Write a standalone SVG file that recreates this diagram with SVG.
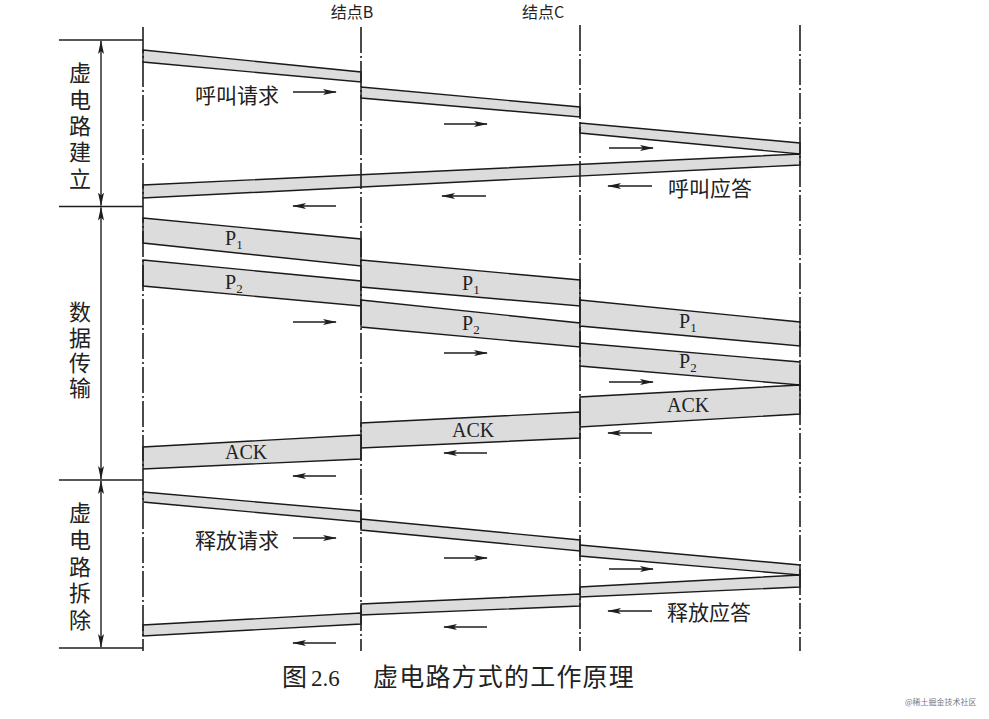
<svg xmlns="http://www.w3.org/2000/svg" width="989" height="719" viewBox="0 0 989 719">
<style>
.bg{fill:#ffffff}
.node{fill:none;stroke:#1e1e1e;stroke-width:1.6;stroke-dasharray:26 3 2 3}
.brk{fill:none;stroke:#1e1e1e;stroke-width:1.4}
.band{fill:#dcdcdc;stroke:#1a1a1a;stroke-width:1.4;stroke-linejoin:miter}
.arr{fill:none;stroke:#1e1e1e;stroke-width:1.5}
.cjk{font-family:"Noto Sans CJK SC","Noto Sans CJK JP",sans-serif;fill:#222}
.ser{font-family:"Liberation Serif","Noto Sans CJK SC",serif;fill:#222}
.vert{writing-mode:vertical-rl;font-size:22px}
</style>
<defs>
<marker id="ah" markerUnits="userSpaceOnUse" markerWidth="14" markerHeight="8" refX="13" refY="4" orient="auto-start-reverse" viewBox="0 0 14 8">
<path d="M0,1 L14,4 L0,7 L3,4 z" fill="#1e1e1e"/>
</marker>
</defs>
<rect class="bg" x="0" y="0" width="989" height="719"/>

<g id="node-labels">
<text class="cjk" x="352" y="18" font-size="16" text-anchor="middle">结点B</text>
<text class="cjk" x="543" y="18" font-size="16" text-anchor="middle">结点C</text>
</g>

<g id="phase-brackets">
<line class="brk" x1="59" y1="40" x2="143" y2="40"/>
<line class="brk" x1="59" y1="206.5" x2="143" y2="206.5"/>
<line class="brk" x1="59" y1="480" x2="143" y2="480"/>
<line class="brk" x1="59" y1="648" x2="143" y2="648"/>
<line class="brk" x1="101" y1="41" x2="101" y2="205.5" marker-start="url(#ah)" marker-end="url(#ah)"/>
<line class="brk" x1="101" y1="207.5" x2="101" y2="479" marker-start="url(#ah)" marker-end="url(#ah)"/>
<line class="brk" x1="101" y1="481" x2="101" y2="647" marker-start="url(#ah)" marker-end="url(#ah)"/>
</g>

<g id="phase-setup-label">
<text class="cjk vert" x="80" y="62" letter-spacing="4.3">虚电路建立</text>
</g>
<g id="phase-data-label">
<text class="cjk vert" x="80" y="301" letter-spacing="3.3">数据传输</text>
</g>
<g id="phase-release-label">
<text class="cjk vert" x="80" y="502" letter-spacing="4.7">虚电路拆除</text>
</g>

<g id="setup-bands">
<polygon class="band" points="143,50 361,72 361,82 143,62"/>
<polygon class="band" points="361,87 580,107 580,117 361,98"/>
<polygon class="band" points="580,123 800,143 800,154 580,133"/>
<polygon class="band" points="800,154 800,165 143,198 143,185"/>
</g>

<g id="data-bands">
<polygon class="band" points="143,218 361,239 361,266 143,243"/>
<polygon class="band" points="143,260 361,281 361,306 143,286"/>
<polygon class="band" points="361,260 580,280 580,306 361,287"/>
<polygon class="band" points="361,300 580,323 580,347 361,327"/>
<polygon class="band" points="580,300 800,322 800,346 580,326"/>
<polygon class="band" points="580,343 800,362 800,385 580,366"/>
<polygon class="band" points="800,385 800,414 580,427 580,397"/>
<polygon class="band" points="580,412 580,438 361,448 361,423"/>
<polygon class="band" points="361,435 361,459 143,469 143,447"/>
</g>

<g id="release-bands">
<polygon class="band" points="143,492 361,511 361,522 143,502"/>
<polygon class="band" points="361,519 580,540 580,551 361,530"/>
<polygon class="band" points="580,545 800,565 800,575 580,556"/>
<polygon class="band" points="800,575 800,587 580,597 580,587"/>
<polygon class="band" points="580,594 580,606 361,615 361,604"/>
<polygon class="band" points="361,613 361,624 143,636 143,625"/>
</g>

<g id="nodes">
<line id="node-A" class="node" x1="143" y1="27" x2="143" y2="651"/>
<line id="node-B" class="node" x1="361" y1="27" x2="361" y2="651"/>
<line id="node-C" class="node" x1="580" y1="25" x2="580" y2="651"/>
<line id="node-D" class="node" x1="800" y1="25" x2="800" y2="651"/>
</g>

<g id="connectors">
<line class="arr" x1="293" y1="92" x2="336" y2="92" marker-end="url(#ah)"/>
<line class="arr" x1="444" y1="124" x2="487" y2="124" marker-end="url(#ah)"/>
<line class="arr" x1="609" y1="148" x2="653" y2="148" marker-end="url(#ah)"/>
<line class="arr" x1="336" y1="206" x2="293" y2="206" marker-end="url(#ah)"/>
<line class="arr" x1="486" y1="196" x2="442" y2="196" marker-end="url(#ah)"/>
<line class="arr" x1="652" y1="186" x2="608" y2="186" marker-end="url(#ah)"/>
<line class="arr" x1="293" y1="322" x2="336" y2="322" marker-end="url(#ah)"/>
<line class="arr" x1="444" y1="353" x2="487" y2="353" marker-end="url(#ah)"/>
<line class="arr" x1="609" y1="382" x2="653" y2="382" marker-end="url(#ah)"/>
<line class="arr" x1="652" y1="433" x2="608" y2="433" marker-end="url(#ah)"/>
<line class="arr" x1="487" y1="453" x2="444" y2="453" marker-end="url(#ah)"/>
<line class="arr" x1="336" y1="476" x2="293" y2="476" marker-end="url(#ah)"/>
<line class="arr" x1="293" y1="538" x2="336" y2="538" marker-end="url(#ah)"/>
<line class="arr" x1="444" y1="558" x2="487" y2="558" marker-end="url(#ah)"/>
<line class="arr" x1="609" y1="569" x2="653" y2="569" marker-end="url(#ah)"/>
<line class="arr" x1="652" y1="611" x2="608" y2="611" marker-end="url(#ah)"/>
<line class="arr" x1="487" y1="627" x2="444" y2="627" marker-end="url(#ah)"/>
<line class="arr" x1="336" y1="643" x2="293" y2="643" marker-end="url(#ah)"/>
</g>

<g id="message-labels">
<text class="cjk" x="195" y="103" font-size="21">呼叫请求</text>
<text class="cjk" x="668" y="196" font-size="21">呼叫应答</text>
<text class="cjk" x="195" y="548" font-size="21">释放请求</text>
<text class="cjk" x="667" y="620" font-size="21">释放应答</text>
<g class="ser" font-size="20">
<text x="225" y="245">P<tspan font-size="13" dy="4">1</tspan></text>
<text x="225" y="289">P<tspan font-size="13" dy="4">2</tspan></text>
<text x="462" y="290">P<tspan font-size="13" dy="4">1</tspan></text>
<text x="462" y="330">P<tspan font-size="13" dy="4">2</tspan></text>
<text x="679" y="328">P<tspan font-size="13" dy="4">1</tspan></text>
<text x="679" y="368">P<tspan font-size="13" dy="4">2</tspan></text>
<text x="667" y="412">ACK</text>
<text x="452" y="437">ACK</text>
<text x="225" y="459">ACK</text>
</g>
</g>

<g id="caption">
<text class="cjk" x="282" y="686" font-size="25">图</text>
<text class="ser" x="311" y="686" font-size="23">2.6</text>
<text class="cjk" x="373" y="686" font-size="25" letter-spacing="1.2">虚电路方式的工作原理</text>
</g>
<text class="cjk" x="905" y="705" font-size="8" style="fill:#777">@稀土掘金技术社区</text>
</svg>
